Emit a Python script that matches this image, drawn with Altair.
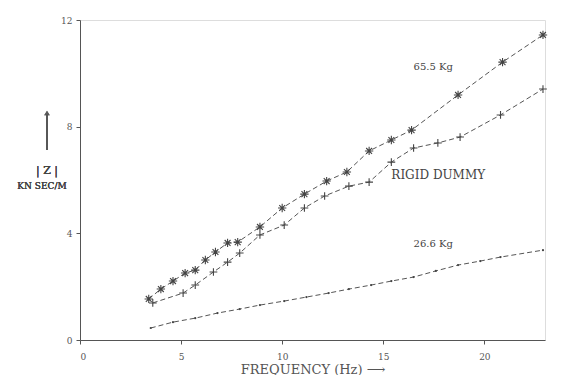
import altair as alt
import pandas as pd

# 65.5 Kg series (asterisk markers)
f_655 = [3.4, 4.0, 4.6, 5.2, 5.7, 6.2, 6.7, 7.3, 7.8, 8.9, 10.0, 11.1, 12.2, 13.2, 14.3, 15.4, 16.4, 18.7, 20.9, 22.9]
z_655 = [1.54, 1.91, 2.21, 2.51, 2.62, 3.00, 3.30, 3.64, 3.67, 4.24, 4.95, 5.47, 5.96, 6.30, 7.09, 7.50, 7.87, 9.19, 10.42, 11.44]

# Rigid dummy series (plus markers)
f_rig = [3.6, 5.1, 5.7, 6.6, 7.3, 7.9, 8.9, 10.1, 11.1, 12.1, 13.3, 14.3, 15.4, 16.5, 17.7, 18.8, 20.8, 22.9]
z_rig = [1.39, 1.76, 2.06, 2.55, 2.92, 3.26, 3.94, 4.31, 4.95, 5.40, 5.77, 5.92, 6.67, 7.20, 7.39, 7.61, 8.44, 9.41]

# 26.6 Kg series (dot markers)
f_266 = [3.5, 4.6, 5.7, 6.8, 7.9, 8.9, 10.1, 11.2, 12.3, 13.3, 14.4, 15.4, 16.5, 17.6, 18.7, 19.8, 20.8, 22.9]
z_266 = [0.45, 0.67, 0.82, 1.01, 1.16, 1.31, 1.46, 1.61, 1.76, 1.91, 2.06, 2.21, 2.36, 2.59, 2.81, 2.96, 3.11, 3.37]

x_ticks = [0, 5, 10, 15, 20]
y_ticks = [0, 4, 8, 12]

labels = ["65.5  Kg", "RIGID DUMMY", "26.6 Kg"]
label_f = [16.5, 15.4, 16.5]
label_z = [10.25, 6.2, 3.6]
label_size = [10, 12, 10]

FONT = "DejaVu Serif"
INK = "#555555"
MARK = "#444444"

d655 = pd.DataFrame({"f": f_655, "z": z_655})
drig = pd.DataFrame({"f": f_rig, "z": z_rig})
d266 = pd.DataFrame({"f": f_266, "z": z_266})
lab = pd.DataFrame({"t": labels, "f": label_f, "z": label_z, "size": label_size})

xs = alt.Scale(domain=[0, 23], nice=False)
ys = alt.Scale(domain=[0, 12], nice=False)

X = alt.X("f:Q", scale=xs, axis=alt.Axis(
    values=x_ticks, title="FREQUENCY (Hz)  \u27f6", grid=False, domainColor=INK,
    tickColor=INK, tickSize=4, labelFont=FONT, labelFontSize=9, labelColor=INK,
    labelPadding=8, titleFont=FONT, titleFontSize=13, titleFontWeight="normal",
    titleColor=INK, titlePadding=2))
Y = alt.Y("z:Q", scale=ys, axis=alt.Axis(
    values=y_ticks, title=None, grid=False, domainColor=INK, tickColor=INK,
    tickSize=4, labelFont=FONT, labelFontSize=9, labelColor=INK, labelPadding=4))

ASTER = "M-1,0L1,0M0,-1L0,1M-0.7,-0.7L0.7,0.7M-0.7,0.7L0.7,-0.7"
PLUS = "M-1,0L1,0M0,-1L0,1"


def series(d, shape, size, filled):
    b = alt.Chart(d)
    ln = b.mark_line(strokeDash=[5, 3], strokeWidth=1, color=INK).encode(x=X, y=Y)
    pt = b.mark_point(shape=shape, size=size, filled=filled, strokeWidth=1.1,
                      color=MARK, opacity=1).encode(x=X, y=Y)
    return [ln, pt]


layers = []
layers += series(d655, ASTER, 70, False)
layers += series(drig, PLUS, 60, False)
layers += series(d266, "circle", 5, True)

texts = alt.Chart(lab).mark_text(align="left", baseline="middle", font=FONT,
                                 color=MARK).encode(
    x=alt.X("f:Q", scale=xs), y=alt.Y("z:Q", scale=ys), text="t:N",
    size=alt.Size("size:Q", scale=None, legend=None))

# y-axis caption: arrow, |Z| and units
arrow_line = alt.Chart(lab).mark_rule(color=INK, strokeWidth=1.5).encode(
    x=alt.value(-33), y=alt.value(94), y2=alt.value(130))
arrow_head = alt.Chart(lab).mark_point(shape="triangle-up", filled=True, color=INK,
                                       size=30).encode(x=alt.value(-33), y=alt.value(93))
ztxt = alt.Chart(lab).mark_text(font=FONT, fontSize=11, color=MARK).encode(
    x=alt.value(-33), y=alt.value(151), text=alt.value("| Z |"))
unit = alt.Chart(lab).mark_text(font=FONT, fontSize=9, color=MARK).encode(
    x=alt.value(-38), y=alt.value(166), text=alt.value("KN SEC/M"))

chart = alt.layer(*layers, texts, arrow_line, arrow_head, ztxt, unit).properties(
    width=465, height=320,
    autosize=alt.AutoSizeParams(type="none"),
    padding={"left": 72, "top": 12, "right": 9, "bottom": 35},
).configure_view(stroke=INK, strokeWidth=1).configure(background="white")

chart.save("out.html", embed_options={"renderer": "svg", "actions": False})
